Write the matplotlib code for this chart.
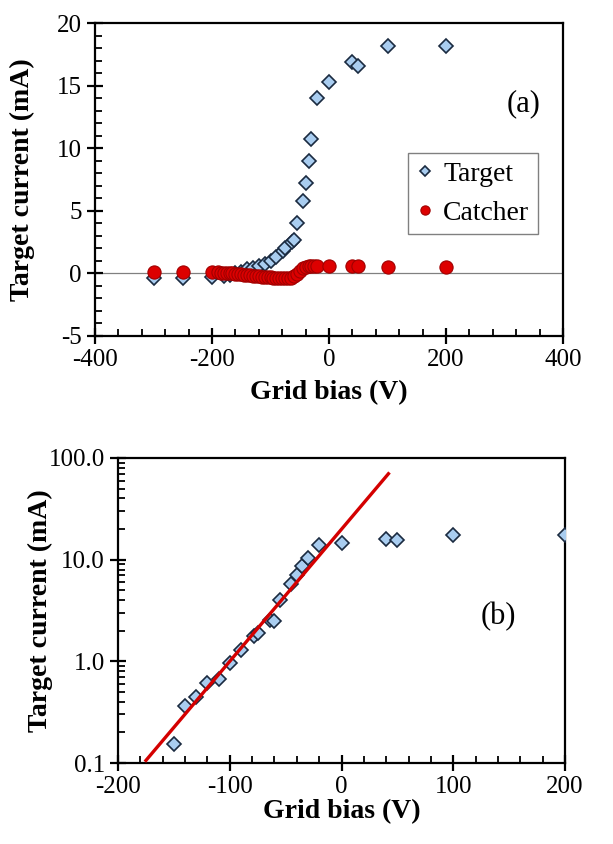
import matplotlib
matplotlib.use("Agg")
import matplotlib.pyplot as plt
from matplotlib.ticker import MultipleLocator, FixedLocator, FixedFormatter, LogLocator, NullFormatter

plt.rcParams['font.family'] = ['Liberation Serif', 'DejaVu Serif']
plt.rcParams['axes.unicode_minus'] = False

# ---- Panel (a) data ----
target_a_x = [-300, -250, -200, -180, -170, -160, -150, -140, -130, -120, -110, -100,
              -90, -78, -75, -64, -60, -55, -45, -40, -35, -30, -20, 0, 40, 50, 100, 200]
target_a_y = [-0.4, -0.35, -0.3, -0.2, -0.1, 0.0, 0.15, 0.36, 0.45, 0.58, 0.72, 0.96,
              1.3, 1.75, 2.0, 2.5, 2.7, 4.0, 5.8, 7.2, 9.0, 10.7, 14.0, 15.3, 16.9, 16.6, 18.2, 18.2]

catcher_x = [-300, -250, -200, -190, -185, -180, -175, -170, -165, -160, -155, -150, -145,
             -140, -135, -130, -125, -120, -115, -110, -105, -100, -95, -90, -85, -80,
             -75, -70, -65, -60, -55, -50, -45, -40, -35, -30, -25, -20, 0, 40, 50, 100, 200]
catcher_y = [0.15, 0.1, 0.1, 0.08, 0.06, 0.05, 0.03, 0.02, 0.0, -0.02, -0.05, -0.08, -0.1,
             -0.12, -0.15, -0.18, -0.2, -0.22, -0.25, -0.28, -0.3, -0.32, -0.35, -0.38, -0.4, -0.4,
             -0.4, -0.38, -0.33, -0.22, -0.08, 0.2, 0.4, 0.52, 0.58, 0.6, 0.62, 0.62, 0.6, 0.62, 0.62, 0.52, 0.52]

# ---- Panel (b) data ----
target_b_x = [-150, -140, -130, -120, -110, -100, -90, -78, -75, -64, -60, -55,
              -45, -40, -35, -30, -20, 0, 40, 50, 100, 200]
target_b_y = [0.154, 0.36, 0.45, 0.61, 0.67, 0.96, 1.30, 1.76, 1.9, 2.57, 2.5, 4.05,
              5.8, 7.0, 8.6, 10.4, 13.8, 14.6, 16.1, 15.7, 17.6, 17.5]
fit_x = [-175, 42]
fit_y = [0.106, 70.0]

b_ytick_vals = [0.1, 1.0, 10.0, 100.0]
b_ytick_labels = ["0.1", "1.0", "10.0", "100.0"]

fill_blue = '#a9cdf0'
edge_blue = '#1a2a40'
red = '#dd0000'
red_edge = '#a00000'

fig = plt.figure(figsize=(6.13, 8.44), dpi=100)

def style_axes(ax):
    for s in ax.spines.values():
        s.set_linewidth(1.6)
    ax.tick_params(which='major', direction='inout', length=11, width=1.6, labelsize=18, pad=4)
    ax.tick_params(which='minor', direction='in', length=5, width=1.3)

# Panel (a)
ax1 = fig.add_axes([95/613, 1-336/844, 468/613, 313/844])
ax1.axhline(0, color='#808080', lw=0.9, zorder=1)
ax1.plot(target_a_x, target_a_y, linestyle='none', marker='D', ms=6.8,
         mfc=fill_blue, mec=edge_blue, mew=1.2, label='Target', zorder=3)
ax1.plot(catcher_x, catcher_y, linestyle='none', marker='o', ms=9.5,
         mfc=red, mec=red_edge, mew=0.8, label='Catcher', zorder=4)
ax1.set_xlim(-400, 400)
ax1.set_ylim(-5, 20)
ax1.xaxis.set_major_locator(MultipleLocator(200))
ax1.xaxis.set_minor_locator(MultipleLocator(40))
ax1.yaxis.set_major_locator(MultipleLocator(5))
ax1.yaxis.set_minor_locator(MultipleLocator(1))
style_axes(ax1)
ax1.set_xlabel('Grid bias (V)', fontsize=20, fontweight='bold')
ax1.set_ylabel('Target current (mA)', fontsize=20, fontweight='bold')
ax1.xaxis.set_label_coords(0.5, -0.182)
ax1.xaxis.label.set_va('center')
ax1.yaxis.set_label_coords(-0.156, 0.5)
ax1.yaxis.label.set_va('center')
ax1.text(524, 844-104, '(a)', transform=None, fontsize=22, ha='center', va='center')
leg = ax1.legend(loc='center', bbox_to_anchor=((473-95)/468, (336-193.5)/313), fontsize=20,
                 frameon=True, fancybox=False, edgecolor='#808080', framealpha=1,
                 markerscale=0.7, handlelength=0.6, handletextpad=0.35, borderpad=0.3,
                 labelspacing=0.48, borderaxespad=0)
leg.get_frame().set_linewidth(1.0)

# Panel (b)
ax2 = fig.add_axes([118/613, 1-763/844, 447/613, 305/844])
ax2.plot(target_b_x, target_b_y, linestyle='none', marker='D', ms=6.8,
         mfc=fill_blue, mec=edge_blue, mew=1.2, zorder=3)
ax2.plot(fit_x, fit_y, color='#d40000', lw=2.4, zorder=4)
ax2.set_yscale('log')
ax2.set_xlim(-200, 200)
ax2.set_ylim(0.1, 100)
ax2.xaxis.set_major_locator(MultipleLocator(100))
ax2.xaxis.set_minor_locator(MultipleLocator(20))
ax2.yaxis.set_major_locator(FixedLocator(b_ytick_vals))
ax2.yaxis.set_major_formatter(FixedFormatter(b_ytick_labels))
ax2.yaxis.set_minor_locator(LogLocator(base=10, subs=range(2, 10)))
ax2.yaxis.set_minor_formatter(NullFormatter())
style_axes(ax2)
ax2.set_xlabel('Grid bias (V)', fontsize=20, fontweight='bold')
ax2.set_ylabel('Target current (mA)', fontsize=20, fontweight='bold')
ax2.xaxis.set_label_coords(0.5, -0.16)
ax2.xaxis.label.set_va('center')
ax2.yaxis.set_label_coords(-0.174, 0.5)
ax2.yaxis.label.set_va('center')
ax2.text(498, 844-617, '(b)', transform=None, fontsize=22, ha='center', va='center')

fig.savefig('out.png', dpi=100)
